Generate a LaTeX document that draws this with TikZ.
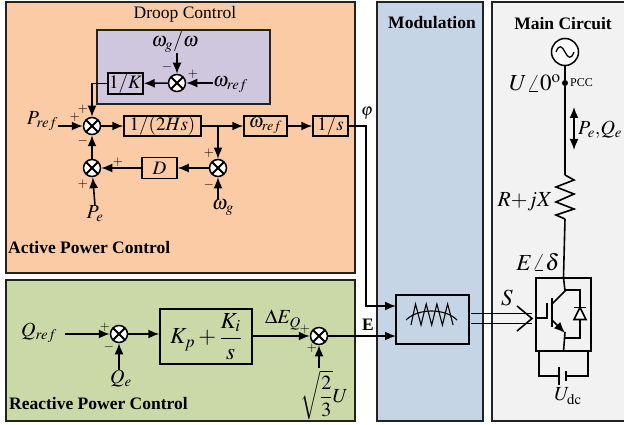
\documentclass[tikz,border=0pt]{standalone}
\usepackage{amsmath}
\usepackage{mathptmx}
\usepackage[no-math]{fontspec}
\setmainfont{Liberation Serif}
\usetikzlibrary{arrows.meta}

\definecolor{orangepanel}{HTML}{FBCBA5}
\definecolor{violetpanel}{HTML}{CFC7DD}
\definecolor{greenpanel}{HTML}{CBD9A8}
\definecolor{bluepanel}{HTML}{C6D5E6}
\definecolor{greypanel}{HTML}{F2F2F2}
\definecolor{darkline}{HTML}{222222}

\tikzset{
  panel/.style={draw=darkline, line width=1.4pt},
  wire/.style={line width=1.6pt},
  block/.style={draw, line width=1.5pt, inner sep=0pt, font=\fontsize{19}{21}\selectfont},
  sumnode/.style={circle, draw, fill=white, line width=1.5pt, minimum size=17pt, inner sep=0pt,
    path picture={
      \draw[line width=1.8pt] (path picture bounding box.north west) -- (path picture bounding box.south east);
      \draw[line width=1.8pt] (path picture bounding box.north east) -- (path picture bounding box.south west);
    }},
  sign/.style={inner sep=0pt, font=\fontsize{13}{13}\selectfont},
  lab/.style={inner sep=0pt, font=\fontsize{20}{22}\selectfont},
  biglab/.style={inner sep=0pt, font=\fontsize{23}{25}\selectfont},
  title/.style={inner sep=0pt, font=\fontsize{17.5}{20}\selectfont}
}

\begin{document}
\begin{tikzpicture}[x=1pt, y=-1pt, >={Latex[length=11pt,width=9pt]}]

  \useasboundingbox (0,0) rectangle (624,425);

  % Panneaux
  \draw[panel, fill=orangepanel] (6,2) rectangle (355,273);
  \draw[panel, fill=violetpanel] (97,30) rectangle (270,104);
  \draw[panel, fill=greenpanel] (6,280) rectangle (355,421);
  \draw[panel, fill=bluepanel] (377,2) rectangle (483,421);
  \draw[panel, fill=greypanel] (624,2) -- (492,2) -- (492,421) -- (624,421);

  % Titres
  \node[title] (droop) at (185,14) {Droop Control};
  \node[title, anchor=west] (active) at (8,248) {\textbf{Active Power Control}};
  \node[title, anchor=west] (reactive) at (9,404) {\textbf{Reactive Power Control}};
  \node[title] (modul) at (432,23) {\textbf{Modulation}};
  \node[title] (maincirc) at (563,24) {\textbf{Main Circuit}};

  % Sommateurs
  \node[sumnode] (sa) at (177,83) {};
  \node[sumnode] (sb) at (92,126) {};
  \node[sumnode] (sc) at (92,168) {};
  \node[sumnode] (sd) at (218,168) {};
  \node[sumnode] (se) at (119,334) {};
  \node[sumnode] (sf) at (319,336) {};

  % Blocs
  \node[block, minimum width=35pt, minimum height=21pt] (invk) at (125.5,83.5) {$1/K$};
  \node[block, minimum width=77pt, minimum height=20pt] (inert) at (162.5,126) {$1/(2Hs)$};
  \node[block, minimum width=43pt, minimum height=20pt] (wref) at (265.5,126) {$\omega_{ref}$};
  \node[block, minimum width=35pt, minimum height=20pt] (integ) at (330.5,126) {$1/s$};
  \node[block, minimum width=35pt, minimum height=21pt] (damp) at (159.5,168) {$D$};
  \node[block, minimum width=92pt, minimum height=55pt, font=\fontsize{23}{25}\selectfont] (pi) at (206,336.5) {$K_p+\dfrac{K_i}{s}$};
  \node[block, minimum width=73pt, minimum height=49pt] (mod) at (432.5,319.5) {};
  \node[block, minimum width=55pt, minimum height=73pt] (conv) at (563.5,314.5) {};

  % Grandeurs
  \node[lab] (wgw) at (175,42) {$\omega_g/\omega$};
  \node[lab, anchor=west] (wrefin) at (213,85) {$\omega_{ref}$};
  \node[lab, anchor=east] (pref) at (58,121) {$P_{ref}$};
  \node[lab] (pe) at (95,214) {$P_e$};
  \node[lab] (wg) at (223,208) {$\omega_g$};
  \node[lab, anchor=east] (qref) at (57,333) {$Q_{ref}$};
  \node[lab] (qe) at (121,379) {$Q_e$};
  \node[lab] (deq) at (283,320) {$\Delta E_Q$};
  \node[lab] (root) at (324,395) {$\sqrt{\dfrac{2}{3}}U$};
  \node[lab, font=\fontsize{17}{19}\selectfont] (phi) at (367,113) {$\varphi$};
  \node[title] (ebf) at (368,325) {\textbf{E}};
  \node[biglab] (slab) at (507,298) {$S$};
  \node[biglab] (ulab) at (535,83) {$U\angle 0^{\mathrm{o}}$};
  \node[sign, font=\fontsize{12}{12}\selectfont, anchor=west] (pcclab) at (570,83) {PCC};
  \node[lab, anchor=west] (pqlab) at (578,130) {$P_e{,}Q_e$};
  \node[lab, font=\fontsize{21.5}{23}\selectfont] (rlab) at (525,202) {$R{+}jX$};
  \node[biglab] (elab) at (538,262) {$E\angle\delta$};
  \node[lab] (udc) at (568,396) {$U_{\mathrm{dc}}$};

  % Signes
  \foreach \n/\x/\y/\t in {ma/167/67/-, mb/193/74/+, mc/83/109/+, md/75/117/+, me/83/141/-,
    mf/118/162/+, mg/83/184/+, mh/209/153/+, mi/209/185/-,
    mj/105/327/+, mk/109/347/-, ml/305/329/+, mm/312/348/+}
    \node[sign] (\n) at (\x,\y) {$\t$};

  % Liaisons du bloc actif
  \draw[->, wire] (wgw.south -| sa) -- (sa);
  \draw[->, wire] (wrefin.west |- sa) -- (sa);
  \draw[->, wire] (sa) -- (invk);
  \draw[->, wire] (invk.west) -| (sb);
  \draw[->, wire] (pref.east |- sb) -- (sb);
  \draw[->, wire] (sb) -- (inert);
  \draw[->, wire] (inert) -- (wref);
  \draw[->, wire] (inert.east -| sd) -- (sd);
  \draw[->, wire] (wref) -- (integ);
  \draw[->, wire] (sd) -- (damp);
  \draw[->, wire] (damp) -- (sc);
  \draw[->, wire] (sc) -- (sb);
  \draw[->, wire] (pe.north) -- (sc);
  \draw[->, wire] (wg.north -| sd) -- (sd);

  % Liaisons du bloc reactif
  \coordinate (qstart) at (65,334);
  \coordinate (rootup) at (319,368);
  \draw[->, wire] (qstart) -- (se);
  \draw[->, wire] (qe.north -| se) -- (se);
  \draw[->, wire] (se) -- (se -| pi.west);
  \draw[->, wire] (sf -| pi.east) -- (sf);
  \draw[->, wire] (rootup) -- (sf);

  % Vers la modulation
  \coordinate (phicorner) at (366,126);
  \coordinate (modup) at (396,306);
  \coordinate (modlow) at (396,336);
  \draw[->, wire] (integ.east) -- (phicorner) |- (modup);
  \draw[->, wire] (sf) -- (modlow);

  % Porteuse et modulante
  \draw[line width=1.1pt] (406,320) .. controls (418,308) and (445,308) .. (457,320);
  \draw[line width=1.1pt] (411,325) \foreach \x in {0,1,2,3} {
    -- (415.5+10.7*\x,304) -- (421+10.7*\x,325)};

  % Ordres S
  \coordinate (sup) at (471,313.5);
  \coordinate (slow) at (471,323.5);
  \coordinate (stip) at (532,318.5);
  \draw[wire] (sup) -- (stip |- sup);
  \draw[wire] (slow) -- (stip |- slow);
  \draw[wire, line join=miter] (517,306) -- (stip) -- (517,331);

  % Source et ligne
  \node[circle, draw, fill=white, line width=1.5pt, minimum size=27pt, inner sep=0pt] (source) at (565,52) {};
  \draw[line width=1.3pt] (556,52) .. controls (559,44) and (562,46) .. (565,52)
    .. controls (568,58) and (571,60) .. (574,52);
  \node[circle, fill=black, minimum size=6pt, inner sep=0pt] (pcc) at (565,83) {};
  \coordinate (rtop) at (565,175);
  \coordinate (rbot) at (565,219);
  \draw[wire] (source) -- (pcc) -- (rtop);
  \draw[wire] (rtop) -- (574,180) -- (556,187) -- (574,194) -- (556,202) -- (574,209) -- (556,215) -- (rbot);
  \draw[wire] (rbot) -- (conv.north);
  \coordinate (flowa) at (574,107);
  \coordinate (flowb) at (574,150);
  \draw[<->, wire] (flowa) -- (flowb);

  % Interrupteur et diode
  \draw[wire] (conv.north) -- (565,291) -- (552,304);
  \draw[->, wire] (552,320) -- (565,333);
  \draw[wire] (565,332) -- (conv.south);
  \draw[wire] (552,298) -- (552,327);
  \draw[wire] (conv.west |- 0,318) -- (547,318) -- (547,303);
  \draw[wire] (565,290) -| (580,338) -- (565,338);
  \draw[wire, fill=white] (574,319.5) -- (586,319.5) -- (580,307.5) -- cycle;
  \draw[wire] (573.5,307.5) -- (586,307.5);

  % Bus continu
  \coordinate (dca) at (539,351);
  \coordinate (dcb) at (588,351);
  \draw[wire] (dca) |- (559,376);
  \draw[wire] (dcb) |- (566,376);
  \draw[wire] (559,367) -- (559,385);
  \draw[wire] (566,371) -- (566,381);

\end{tikzpicture}
\end{document}
